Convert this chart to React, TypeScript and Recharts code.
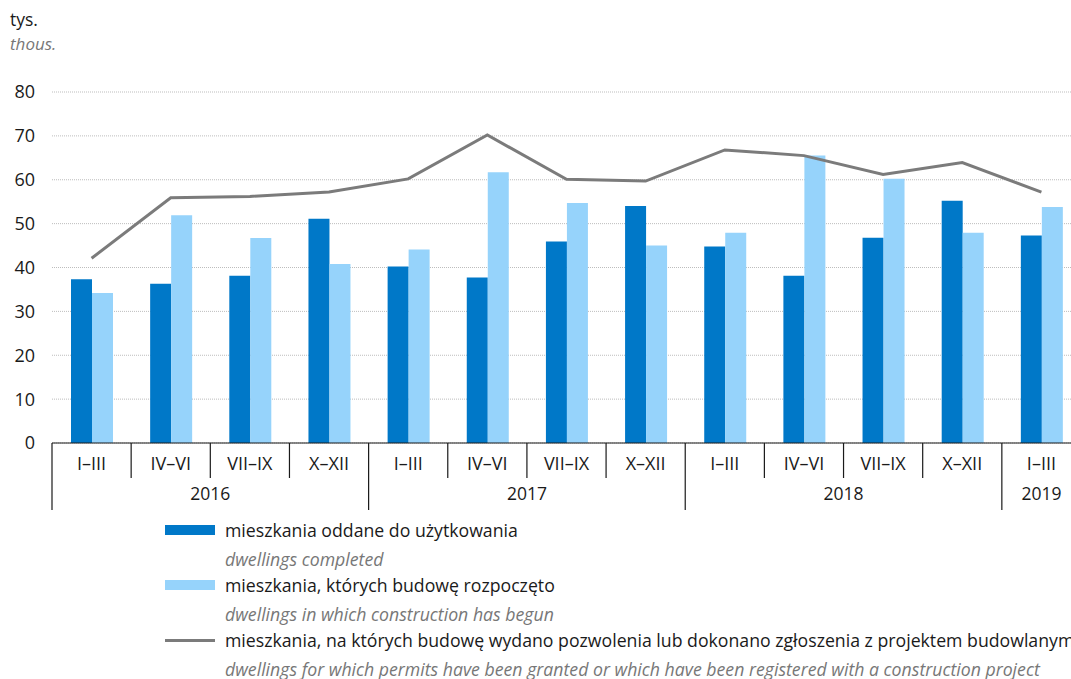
import React from "react";
import {
  ComposedChart,
  Bar,
  Line,
  XAxis,
  YAxis,
  CartesianGrid,
} from "recharts";

const QUARTERS = ["I–III", "IV–VI", "VII–IX", "X–XII", "I–III", "IV–VI", "VII–IX", "X–XII", "I–III", "IV–VI", "VII–IX", "X–XII", "I–III"];
const YEARS = ["2016", "2016", "2016", "2016", "2017", "2017", "2017", "2017", "2018", "2018", "2018", "2018", "2019"];
const COMPLETED = [37.3, 36.3, 38.1, 51.1, 40.2, 37.7, 45.9, 54.0, 44.8, 38.1, 46.8, 55.2, 47.3];
const STARTED = [34.2, 51.9, 46.7, 40.8, 44.1, 61.7, 54.7, 45.0, 47.9, 65.5, 60.2, 47.9, 53.8];
const PERMITS = [42.1, 55.9, 56.2, 57.2, 60.2, 70.2, 60.1, 59.7, 66.8, 65.5, 61.2, 63.9, 57.2];
const Y_TICKS = [0, 10, 20, 30, 40, 50, 60, 70, 80];

const DARK = "#0078c8";
const LIGHT = "#96d3fb";
const GREY = "#7b7b7b";
const FONT = "'Open Sans', sans-serif";

const LEGEND = [
  { pl: "mieszkania oddane do użytkowania", en: "dwellings completed", color: DARK, kind: "bar" },
  { pl: "mieszkania, których budowę rozpoczęto", en: "dwellings in which construction has begun", color: LIGHT, kind: "bar" },
  {
    pl: "mieszkania, na których budowę wydano pozwolenia lub dokonano zgłoszenia z projektem budowlanym",
    en: "dwellings for which permits have been granted or which have been registered with a construction project",
    color: GREY,
    kind: "line",
  },
];

const data = QUARTERS.map((q, i) => ({
  key: i,
  quarter: q,
  year: YEARS[i],
  completed: COMPLETED[i],
  started: STARTED[i],
  permits: PERMITS[i],
}));

function QuarterTick(props: any) {
  const { x, y, payload } = props;
  const i = payload.index ?? payload.value;
  const half = payload.offset ?? 39.6;
  const left = x - half;
  const firstOfYear = i === 0 || YEARS[i] !== YEARS[i - 1];
  let yearLabel = null;
  if (firstOfYear) {
    const n = YEARS.filter((yy) => yy === YEARS[i]).length;
    yearLabel = (
      <text x={left + n * half} y={y + 57} textAnchor="middle" fontSize={17.5} fill="#1a1a1a" fontFamily={FONT}>
        {YEARS[i]}
      </text>
    );
  }
  return (
    <g>
      <line x1={left} x2={left} y1={y} y2={y + (firstOfYear ? 67 : 35)} stroke="#1a1a1a" strokeWidth={1.2} />
      <text x={x} y={y + 27} textAnchor="middle" fontSize={18} fill="#1a1a1a" fontFamily={FONT}>
        {QUARTERS[i]}
      </text>
      {yearLabel}
    </g>
  );
}

export default function App() {
  return (
    <div
      style={{
        position: "fixed",
        left: 0,
        top: 0,
        width: 1071,
        height: 679,
        overflow: "hidden",
        background: "#fff",
        fontFamily: FONT,
      }}
    >
      <div style={{ position: "absolute", left: 10, top: 7, fontSize: 17.5, color: "#1a1a1a" }}>tys.</div>
      <div style={{ position: "absolute", left: 10, top: 32, fontSize: 17, color: "#777", fontStyle: "italic" }}>thous.</div>
      <ComposedChart
        width={1090}
        height={679}
        data={data}
        margin={{ top: 92, right: 9, left: 0, bottom: 161 }}
        barSize={21}
        barGap={0}
      >
        <CartesianGrid vertical={false} stroke="#bdbdbd" strokeDasharray="1 1" />
        <XAxis
          dataKey="key"
          type="category"
          height={75}
          tickLine={false}
          tickSize={0}
          tickMargin={0}
          axisLine={{ stroke: "#1a1a1a", strokeWidth: 1.2 }}
          interval={0}
          tick={<QuarterTick />}
        />
        <YAxis
          width={52}
          domain={[0, 80]}
          ticks={Y_TICKS}
          axisLine={false}
          tickLine={false}
          tickSize={0}
          tickMargin={17}
          tick={{ fontSize: 18, fill: "#1a1a1a", fontFamily: FONT }}
        />
        <Bar dataKey="completed" fill={DARK} isAnimationActive={false} />
        <Bar dataKey="started" fill={LIGHT} isAnimationActive={false} />
        <Line
          dataKey="permits"
          type="linear"
          stroke={GREY}
          strokeWidth={3}
          dot={false}
          isAnimationActive={false}
        />
      </ComposedChart>
      <div style={{ position: "absolute", left: 165, top: 517 }}>
        {LEGEND.map((item) => (
          <div key={item.pl}>
            <div style={{ display: "flex", alignItems: "center", height: 26, whiteSpace: "nowrap" }}>
              <div
                style={{
                  width: 50,
                  height: item.kind === "bar" ? 10 : 3,
                  background: item.color,
                  marginRight: 10,
                  flexShrink: 0,
                }}
              />
              <span style={{ fontSize: 17.7, color: "#1a1a1a" }}>{item.pl}</span>
            </div>
            <div
              style={{
                display: "flex",
                alignItems: "center",
                height: 26,
                marginTop: 3,
                paddingLeft: 60,
                fontSize: 17.7,
                fontStyle: "italic",
                color: "#777",
                whiteSpace: "nowrap",
              }}
            >
              {item.en}
            </div>
          </div>
        ))}
      </div>
    </div>
  );
}
